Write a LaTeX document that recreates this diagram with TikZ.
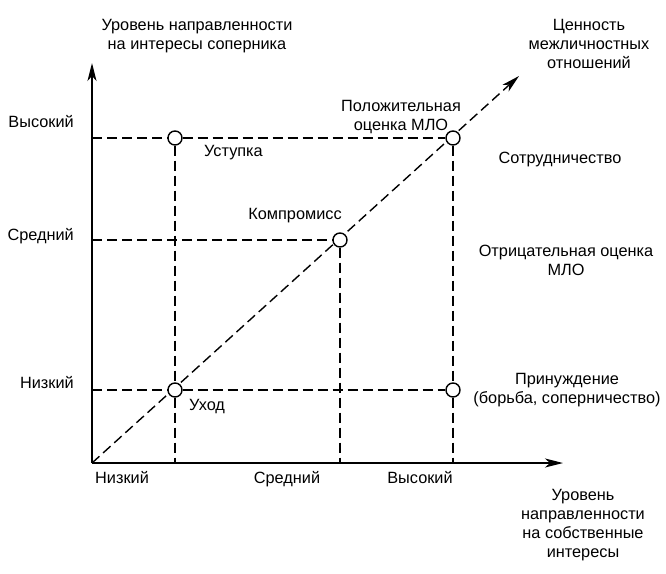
\documentclass[tikz,border=0pt]{standalone}
\usepackage{fontspec}
\setmainfont{Liberation Sans}
\usetikzlibrary{arrows.meta}
\begin{document}
\begin{tikzpicture}[x=1pt,y=-1pt,
  axis/.style={line width=1.4pt,-{Stealth[length=18pt,width=9pt,inset=5pt]}},
  guide/.style={line width=1.4pt,dash pattern=on 10pt off 5pt},
  pt/.style={circle,draw,line width=1.4pt,fill=white,minimum size=14pt,inner sep=0pt},
  lbl/.style={font=\fontsize{16.3}{18.8}\selectfont,inner sep=0pt,align=center}]
\useasboundingbox (0,0) rectangle (666,573);
% axes
\coordinate (O) at (92,463);
\coordinate (Ytip) at (92,63);
\coordinate (Xtip) at (563,463);
\coordinate (Dtip) at (519,76);
\draw[axis] (O) -- (Ytip);
\draw[axis] (O) -- (Xtip);
\draw[axis,dash pattern=on 10pt off 5pt] (O) -- (Dtip);
% points
\node[pt] (ust) at (175,138) {};
\node[pt] (pol) at (453,138) {};
\node[pt] (komp) at (340,240) {};
\node[pt] (uhod) at (175,390) {};
\node[pt] (prin) at (453,390) {};
% axis feet
\coordinate (hy) at (92,138);
\coordinate (my) at (92,240);
\coordinate (ly) at (92,390);
\coordinate (lx) at (175,463);
\coordinate (mx) at (340,463);
\coordinate (hx) at (453,463);
% guides
\draw[guide] (hy) -- (ust);
\draw[guide] (ust) -- (pol);
\draw[guide] (my) -- (komp);
\draw[guide] (ly) -- (uhod);
\draw[guide] (uhod) -- (prin);
\draw[guide] (ust) -- (uhod);
\draw[guide] (uhod) -- (lx);
\draw[guide] (komp) -- (mx);
\draw[guide] (pol) -- (prin);
\draw[guide] (prin) -- (hx);
% labels
\node[lbl,anchor=base] (yt) at (197,49) {Уровень направленности\\на интересы соперника};
\node[lbl,anchor=base] (vt) at (589,68) {Ценность\\межличностных\\отношений};
\node[lbl,anchor=base] (xt) at (583,557) {Уровень\\направленности\\на собственные\\интересы};
\node[lbl,anchor=base east] (yh) at (74,127) {Высокий};
\node[lbl,anchor=base east] (ym) at (74,240) {Средний};
\node[lbl,anchor=base east] (yl) at (74,388) {Низкий};
\node[lbl,anchor=base] (xl) at (122,483) {Низкий};
\node[lbl,anchor=base] (xm) at (287,483) {Средний};
\node[lbl,anchor=base] (xh) at (420,483) {Высокий};
\node[lbl,anchor=base] (tpol) at (401,130) {Положительная\\оценка МЛО};
\node[lbl,anchor=base west] (tust) at (204,156) {Уступка};
\node[lbl,anchor=base] (tsot) at (560,163) {Сотрудничество};
\node[lbl,anchor=base] (tkomp) at (295,219) {Компромисс};
\node[lbl,anchor=base] (totr) at (566,275) {Отрицательная оценка\\МЛО};
\node[lbl,anchor=base] (tprin) at (567,403) {Принуждение\\(борьба, соперничество)};
\node[lbl,anchor=base west] (tuhod) at (189,410) {Уход};
\end{tikzpicture}
\end{document}
